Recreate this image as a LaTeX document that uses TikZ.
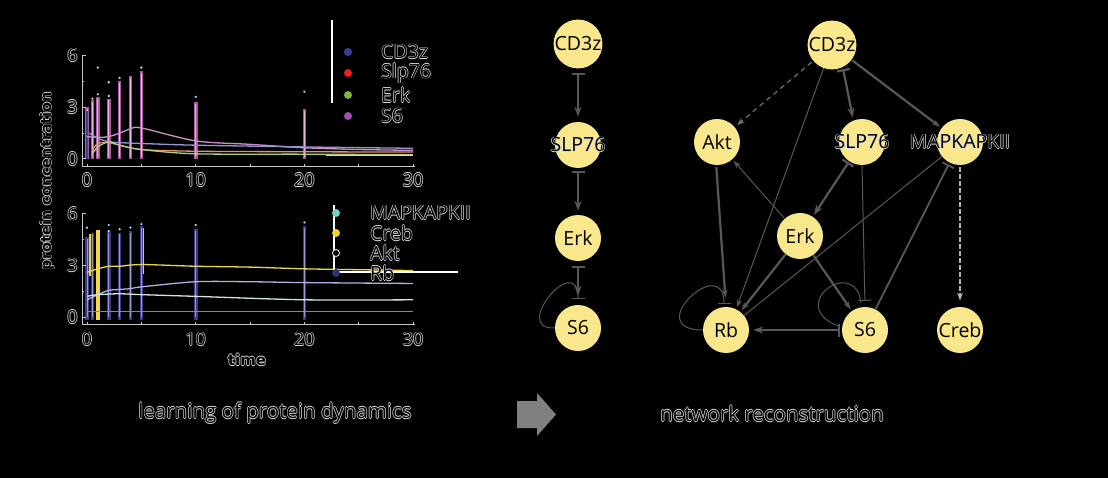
\documentclass[tikz,border=0pt]{standalone}
\usepackage{fontspec}
\setmainfont{Open Sans}
\newfontfamily\dvs{DejaVu Sans}
\usetikzlibrary{arrows.meta,calc}
\definecolor{ylw}{HTML}{F9E78B}
\definecolor{edg}{HTML}{585858}
\definecolor{olc}{HTML}{DADADA}
\definecolor{axc}{HTML}{C8C8C8}
\definecolor{cnavy}{HTML}{3A3F9A}
\definecolor{cred}{HTML}{E82020}
\definecolor{cgreen}{HTML}{78B83C}
\definecolor{cpurp}{HTML}{A050A8}
\definecolor{ccyan}{HTML}{7CCFC8}
\definecolor{cyel}{HTML}{F2D22E}
\definecolor{spkA}{HTML}{A85AA0}
\definecolor{spkB}{HTML}{E8B8E0}
\definecolor{spkN}{HTML}{3C3C8C}
\definecolor{spkM}{HTML}{9898D0}
\newcommand\ol[1]{\leavevmode\rlap{\textcolor{olc}{\hspace*{0.7pt}#1}}\rlap{\textcolor{olc}{\hspace*{-0.7pt}#1}}\rlap{\textcolor{olc}{\raisebox{0.7pt}{#1}}}\rlap{\textcolor{olc}{\raisebox{-0.7pt}{#1}}}\textcolor{black}{#1}}
\newcommand\zw[1]{\makebox[0pt]{#1}}
\begin{document}
\begin{tikzpicture}[x=1pt,y=-1pt,
  nd/.style={circle, fill=ylw, minimum size=46pt, inner sep=0pt, font=\fontsize{19.5}{20}\selectfont, text=black},
  thk/.style={draw=edg, line width=2.2pt},
  thn/.style={draw=edg, line width=1pt},
  ba/.style={arrows={Bar[width=13pt]-Stealth[length=10pt,width=7pt]}},
  arr/.style={arrows={-Stealth[length=8pt,width=5.5pt]}},
  ab/.style={arrows={-Bar[width=13pt]}},
  sb/.style={arrows={Bar[width=13pt]-}},
  lbl/.style={font=\fontsize{19.5}{20}\selectfont, inner sep=0pt},
  tk/.style={font=\fontsize{18}{20}\selectfont, inner sep=0pt},
  captxt/.style={font=\fontsize{20.5}{22}\selectfont, inner sep=0pt},
  spk/.style={line width=3.6pt},
  dat/.style={line width=1.3pt},
  ldot/.style={circle, inner sep=0pt, minimum size=8pt}
]
\fill[black] (0,0) rectangle (1108,478);
\useasboundingbox (0,0) rectangle (1108,478);

% ---------------- top plot ----------------
\begin{scope}[shift={(87,159)}, x=10.87pt, y=17.25pt]
  \foreach \t/\h in {0/3.0,0.5/3.4,1/3.6,2/3.5,3/4.5,4/4.8,5/5.1,10/3.3,20/2.9}{
    \draw[spk, spkA] (\t,0) -- (\t,\h);
    \draw[line width=1pt, spkB] (\t,0.1) -- (\t,\h-0.1);
  }
  \draw[line width=2pt, cnavy] (0,0) -- (0,2.8);
  \foreach \t/\h in {1/5.3,0.5/3.5,1/3.75,2/4.45,2/3.65,3/4.7,5/5.3,10/3.6,20/3.9}{
    \fill[spkB] (\t,\h) circle[radius=1.3pt];
  }
  \draw[dat, color={rgb,255:red,208;green,144;blue,200}] plot[smooth] coordinates {(0,1.3) (1,1.25) (2,1.3) (3,1.5) (4,1.75) (5,1.8) (10,1.05) (15,0.85) (20,0.65) (25,0.55) (30,0.5)};
  \draw[dat, color={rgb,255:red,150;green,150;blue,210}] plot[smooth] coordinates {(0.2,1.5) (1,1.2) (2,1.0) (3,0.95) (5,0.9) (10,0.8) (20,0.7) (30,0.62)};
  \draw[dat, color={rgb,255:red,232;green,144;blue,112}] plot[smooth] coordinates {(0.5,0.5) (1,0.9) (2,0.95) (3,0.8) (5,0.55) (10,0.45) (20,0.42) (30,0.4)};
  \draw[dat, color={rgb,255:red,168;green,208;blue,128}] plot[smooth] coordinates {(0.5,0.3) (1,0.7) (2,1.0) (3,0.8) (5,0.55) (10,0.3) (20,0.28) (30,0.25)};
  \draw[dat, color={rgb,255:red,232;green,216;blue,160}] (22,0.2) -- (30,0.2);
  \draw[axc, line width=1pt] (-0.46,6) -- (-0.46,-0.46) -- (30.2,-0.46);
  \foreach \t in {0,5,...,30} \draw[axc, line width=1pt] (\t,-0.46) -- (\t,-0.28);
  \foreach \c in {0,3,6} \draw[axc, line width=1pt] (-0.46,\c) -- (-0.1,\c);
  \foreach \c in {1.5,4.5} \draw[axc, line width=1pt] (-0.46,\c) -- (-0.25,\c);
  \foreach \c in {0,3,6} \node[tk] at (-1.33,\c) {\ol{\c}};
  \foreach \t in {0,10,20,30} \node[tk] at (\t,-1.22) {\ol{\t}};
\end{scope}

% ---------------- bottom plot ----------------
\begin{scope}[shift={(87,317)}, x=10.87pt, y=17.2pt]
  \foreach \t/\h in {0/4.65,0.5/4.9,2/5.0,3/4.9,4/5.0,5/5.3,10/5.1,20/5.3}{
    \draw[spk, spkN] (\t,-0.15) -- (\t,\h);
    \draw[line width=1pt, spkM] (\t,0) -- (\t,\h-0.1);
  }
  \draw[spk, cyel!85!white] (1,-0.15) -- (1,5.05);
  \draw[line width=1.6pt, cyel] (0.25,2.4) -- (0.25,4.8);
  \draw[line width=1.4pt, cyel] (5.2,2.5) -- (5.2,5.2);
  \foreach \t/\h in {0/5.2,2/5.35,2/5.0,3/5.1,4/5.2,5/5.4,10/5.35,20/5.5}{
    \fill[white!85!blue] (\t,\h) circle[radius=1.2pt];
  }
  \draw[dat, color={rgb,255:red,232;green,216;blue,80}] plot[smooth] coordinates {(0,2.6) (0.5,2.7) (1,2.8) (2,2.95) (3,2.95) (5,3.05) (10,2.95) (15,2.9) (20,2.8) (25,2.75) (30,2.7)};
  \draw[dat, color={rgb,255:red,176;green,176;blue,224}] plot[smooth] coordinates {(0,1.0) (1,1.3) (2,1.55) (3,1.6) (4,1.65) (5,1.75) (10,2.05) (15,2.05) (20,2.0) (30,1.95)};
  \draw[dat, color={rgb,255:red,200;green,232;blue,232}] plot[smooth] coordinates {(0,1.2) (1,1.3) (3,1.35) (5,1.3) (10,1.2) (20,1.0) (30,1.0)};
  \draw[dat, color={rgb,255:red,138;green,138;blue,138}] (0,0.3) -- (30,0.3);
  \draw[axc, line width=1pt] (-0.46,6) -- (-0.46,-0.46) -- (30.2,-0.46);
  \foreach \t in {0,5,...,30} \draw[axc, line width=1pt] (\t,-0.46) -- (\t,-0.28);
  \foreach \c in {0,3,6} \draw[axc, line width=1pt] (-0.46,\c) -- (-0.1,\c);
  \foreach \c in {1.5,4.5} \draw[axc, line width=1pt] (-0.46,\c) -- (-0.25,\c);
  \foreach \c in {0,3,6} \node[tk] at (-1.33,\c) {\ol{\c}};
  \foreach \t in {0,10,20,30} \node[tk] at (\t,-1.3) {\ol{\t}};
\end{scope}

% axis titles
\node[font=\dvs\bfseries\fontsize{14.5}{16}\selectfont, rotate=90, inner sep=0pt] (ylab) at (47,181) {\ol{protein concentration}};
\node[font=\dvs\bfseries\fontsize{15}{16}\selectfont, inner sep=0pt] (xlab) at (247,360) {\ol{time}};

% legends
\draw[white, line width=2.5pt] (332,20) -- (332,103);
\node[ldot, fill=cnavy] (d1) at (348,52) {};
\node[ldot, fill=cred] (d2) at (348,73) {};
\node[ldot, fill=cgreen] (d3) at (348,95) {};
\node[ldot, fill=cpurp] (d4) at (348,116) {};
\node[lbl, anchor=west] (l1) at (381,52) {\ol{CD3z}};
\node[lbl, anchor=west] (l2) at (381,73) {\ol{Slp76}};
\node[lbl, anchor=west] (l3) at (381,95) {\ol{Erk}};
\node[lbl, anchor=west] (l4) at (381,116) {\ol{S6}};

\draw[white, line width=2pt] (334,205) -- (334,272) -- (458,272);
\node[ldot, fill=ccyan] (e1) at (336,213) {};
\node[ldot, fill=cyel] (e2) at (336,233) {};
\node[ldot, fill=black, draw=white, line width=0.8pt, minimum size=7pt] (e3) at (336,253) {};
\node[ldot, fill=cnavy!80!black] (e4) at (336,273) {};
\node[lbl, anchor=west] (m1) at (370,213) {\ol{MAPKAPKII}};
\node[lbl, anchor=west] (m2) at (370,233) {\ol{Creb}};
\node[lbl, anchor=west] (m3) at (370,253) {\ol{Akt}};
\node[lbl, anchor=west] (m4) at (370,273) {\ol{Rb}};

% ---------------- left network ----------------
\node[nd] (aC) at (578,44) {CD3z};
\node[nd] (aS) at (578,145) {\zw{\ol{SLP76}}};
\node[nd] (aE) at (578,238) {Erk};
\node[nd] (a6) at (578,328) {S6};
\draw[thk, ba, shorten <=4pt, shorten >=5pt] (aC) -- (aS);
\draw[thk, ba, shorten <=3pt, shorten >=4pt] (aS) -- (aE);
\draw[thk, ba, shorten <=5pt, shorten >=9pt] (aE) -- (a6);
\draw[thn, ab] (a6.west) .. controls (510,330) and (578,250) .. ($(a6.north)+(0,-6)$);

% ---------------- right network ----------------
\node[nd] (C) at (832,45) {CD3z};
\node[nd] (A) at (717,142) {Akt};
\node[nd] (S) at (862,142) {\zw{\ol{SLP76}}};
\node[nd] (M) at (960,142) {\zw{\ol{MAPKAPKII}}};
\node[nd] (E) at (800,236) {Erk};
\node[nd] (R) at (726,330) {Rb};
\node[nd] (X) at (865,330) {S6};
\node[nd] (B) at (960,330) {Creb};

\draw[draw=edg!85!white, line width=1.2pt, dash pattern=on 5pt off 4pt, arr, shorten <=2pt, shorten >=3pt] (C) -- (A);
\draw[thn, arr, shorten >=2pt] (C.250) -- (R.64);
\draw[thk, ba, shorten <=2pt, shorten >=3pt] (C.296) -- (S.112);
\draw[thk, arr, shorten <=1pt, shorten >=2pt] (C) -- (M);
\draw[thk, arr, shorten <=2pt, shorten >=9pt] (A.268) -- (R.north);
\draw[thn, arr, shorten <=1pt, shorten >=2pt] (E) -- (A);
\draw[thk, ba, shorten <=1pt, shorten >=2pt] (S) -- (E);
\draw[thn, ab, shorten >=6pt] (S.south) -- (X.north);
\draw[thn] (M) -- (R);
\draw[thk, sb, line width=1.8pt, shorten <=2pt] (M) -- (X);
\draw[draw=white!70!black, line width=2pt, dash pattern=on 5pt off 2pt, arr, shorten <=2pt, shorten >=6pt] (M.south) -- (B.north);
\draw[thk, arr, shorten >=2pt] (E) -- (R);
\draw[thk, arr, shorten >=2pt] (E) -- (X);
\draw[draw=edg, line width=1.6pt, ba, shorten <=2pt, shorten >=4pt] (X.west) -- (R.east);
\draw[thn, ab] (R.west) .. controls (640,330) and (724,252) .. ($(R.north)+(-2,-3)$);
\draw[thn] ($(X.north)+(-4,-4)$) .. controls (855,255) and (785,305) .. (838,326);

% ---------------- bottom captions ----------------
\node[captxt] (t1) at (275,413) {\ol{learning of protein dynamics}};
\fill[white!50!black] (517,401) -- (537,401) -- (537,393) -- (556,414.5) -- (537,436) -- (537,428) -- (517,428) -- cycle;
\node[captxt] (t2) at (772,414) {\ol{network reconstruction}};
\end{tikzpicture}
\end{document}
